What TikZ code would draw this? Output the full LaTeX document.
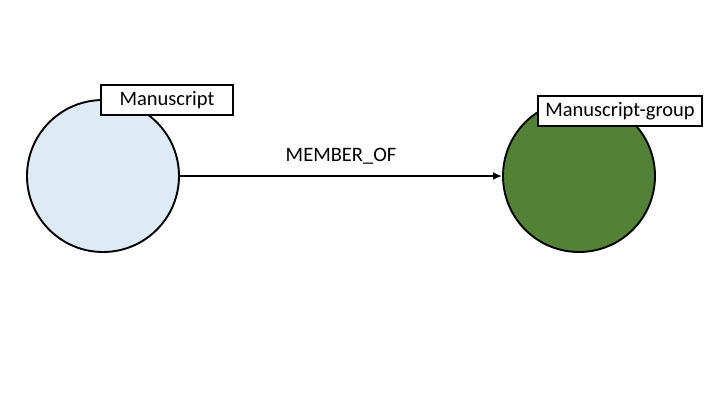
\documentclass[tikz,border=0pt]{standalone}
\usepackage{fontspec}
\setmainfont{Carlito}
\usetikzlibrary{arrows.meta}
\definecolor{lightblue}{HTML}{DEEBF7}
\definecolor{darkgreen}{HTML}{538135}
\begin{document}
\begin{tikzpicture}[x=1pt,y=-1pt,
  entity/.style={circle,draw=black,line width=1.9pt,minimum size=152pt,inner sep=0pt},
  tag/.style={draw=black,fill=white,line width=1.6pt,font=\fontsize{20.5}{24}\selectfont,inner sep=0pt,minimum height=30pt,anchor=center},
  rel/.style={line width=1.8pt,-{Latex[length=9pt,width=8pt]}}]
\useasboundingbox (0,0) rectangle (720,405);
\node[entity,fill=lightblue] (ms) at (103,176) {};
\node[entity,fill=darkgreen] (mg) at (579,176) {};
\node[tag,minimum width=132pt] (mslabel) at (167,100) {Manuscript};
\node[tag,minimum width=164pt] (mglabel) at (620,111) {Manuscript-group};
\draw[rel] (ms) -- node[above=8pt,font=\fontsize{20.5}{24}\selectfont] (rl) {MEMBER\_OF} (mg);
\end{tikzpicture}
\end{document}
